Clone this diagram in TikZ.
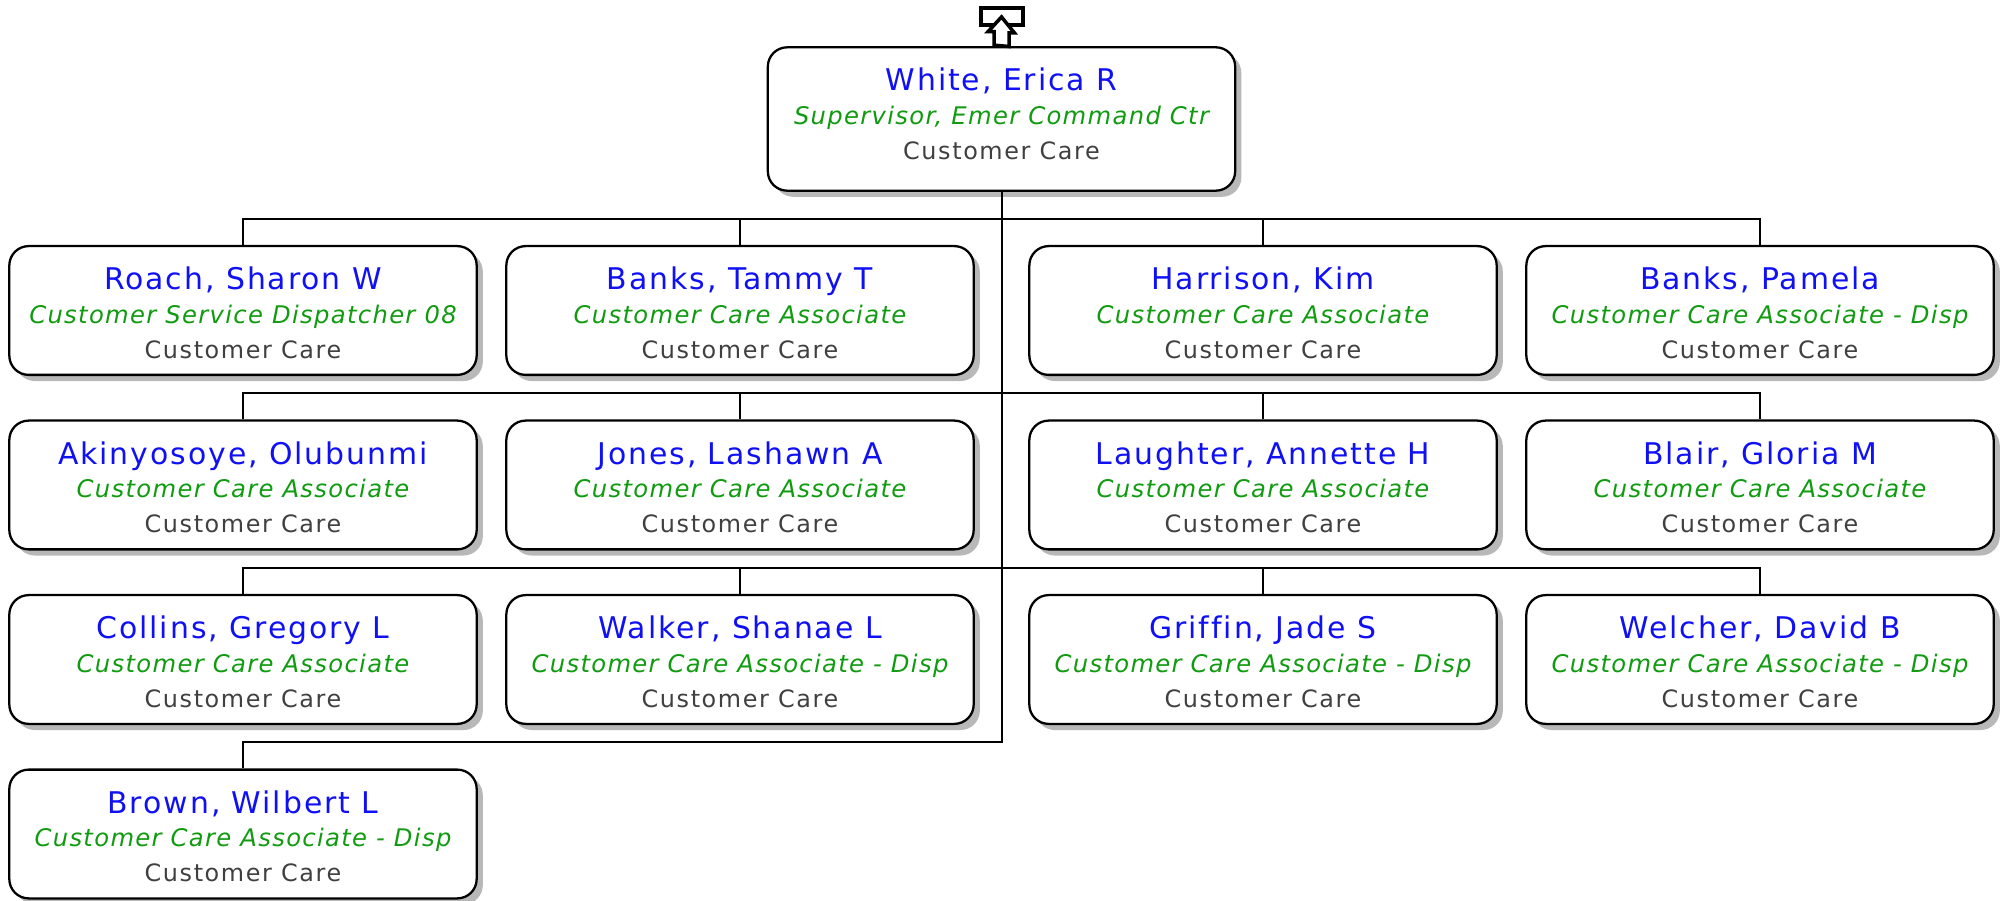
\documentclass[tikz,border=0pt]{standalone}
\usepackage{fontspec}
\setmainfont[RawFeature=-liga]{DejaVu Sans}
\usetikzlibrary{calc,shadows}
\tikzset{>=stealth}
\definecolor{namecol}{RGB}{16,16,245}
\definecolor{titlecol}{RGB}{16,155,16}
\definecolor{deptcol}{RGB}{64,64,64}
\tikzset{
  card/.style={draw=black,fill=white,line width=1.3pt,rounded corners=11pt,
    minimum width=266pt,minimum height=73.3pt,inner sep=0pt,align=center,
    font=\fontsize{12}{19.9}\selectfont,
    drop shadow={shadow xshift=3.5pt,shadow yshift=-3.5pt,fill=black!28,opacity=1}},
  link/.style={draw=black,line width=1.15pt},
  icon/.style={draw=black,fill=white,line width=2pt}
}
\newcommand*{\person}[3][0pt]
  {\rule{0pt}{14.8pt}\raisebox{-.7pt}{\fontsize{17}{19.9}\selectfont\addfontfeatures{LetterSpace=6.5}\color{namecol}#2}\\
   {\fontsize{13.8}{19.9}\selectfont\itshape\addfontfeatures{LetterSpace=5.5}\color{titlecol}#3}\\
   {\fontsize{13.6}{19.9}\selectfont\addfontfeatures{LetterSpace=6.7}\color{deptcol}Customer Care}\rule[-#1]{0pt}{#1}}

\begin{document}
\begin{tikzpicture}[x=.02cm,y=-.02cm]
\useasboundingbox (0,0) rectangle (2011,901);
\node[card,minimum height=81.6pt] (white) at (1001.5,119) {\person[8.3pt]{White, Erica R}{Supervisor, Emer Command Ctr}};
\foreach \x/\y/\name/\who/\job in {
  243/310.5/roach/{Roach, Sharon W}/{Customer Service Dispatcher 08},
  740/310.5/tammy/{Banks, Tammy T}/{Customer Care Associate},
  1263/310.5/harrison/{Harrison, Kim}/{Customer Care Associate},
  1760/310.5/pamela/{Banks, Pamela}/{Customer Care Associate - Disp},
  243/485/akin/{Akinyosoye, Olubunmi}/{Customer Care Associate},
  740/485/jones/{Jones, Lashawn A}/{Customer Care Associate},
  1263/485/laughter/{Laughter, Annette H}/{Customer Care Associate},
  1760/485/blair/{Blair, Gloria M}/{Customer Care Associate},
  243/659.5/collins/{Collins, Gregory L}/{Customer Care Associate},
  740/659.5/walker/{Walker, Shanae L}/{Customer Care Associate - Disp},
  1263/659.5/griffin/{Griffin, Jade S}/{Customer Care Associate - Disp},
  1760/659.5/welcher/{Welcher, David B}/{Customer Care Associate - Disp},
  243/834/brown/{Brown, Wilbert L}/{Customer Care Associate - Disp}} {
  \node[card] (\name) at (\x,\y) {\person{\who}{\job}};
}
\coordinate (busa) at ($(white.south)+(0,27)$);
\coordinate (busb) at ($(busa)+(0,174.5)$);
\coordinate (busc) at ($(busb)+(0,174.5)$);
\coordinate (busd) at ($(busc)+(0,174.5)$);
\foreach \bus/\la/\lb/\lc/\ld in {busa/roach/tammy/harrison/pamela,busb/akin/jones/laughter/blair,busc/collins/walker/griffin/welcher} {
  \draw[link] (\bus) -| (\la.north);
  \draw[link] (\bus) -| (\lb.north);
  \draw[link] (\bus) -| (\lc.north);
  \draw[link] (\bus) -| (\ld.north);
}
\draw[link] (white.south) -- (busd) -| (brown.north);
% way up
\draw[icon] (981,8) rectangle (1023,25);
\draw[icon] (white.north) ++(-7.5,-1) -- ++(0,-13.5) -- ++(-6,0) -- (1001.5,17) -- (1014.5,33) -- ++(-5.5,0) -- ++(0,13.5) -- cycle;
\end{tikzpicture}
\end{document}
